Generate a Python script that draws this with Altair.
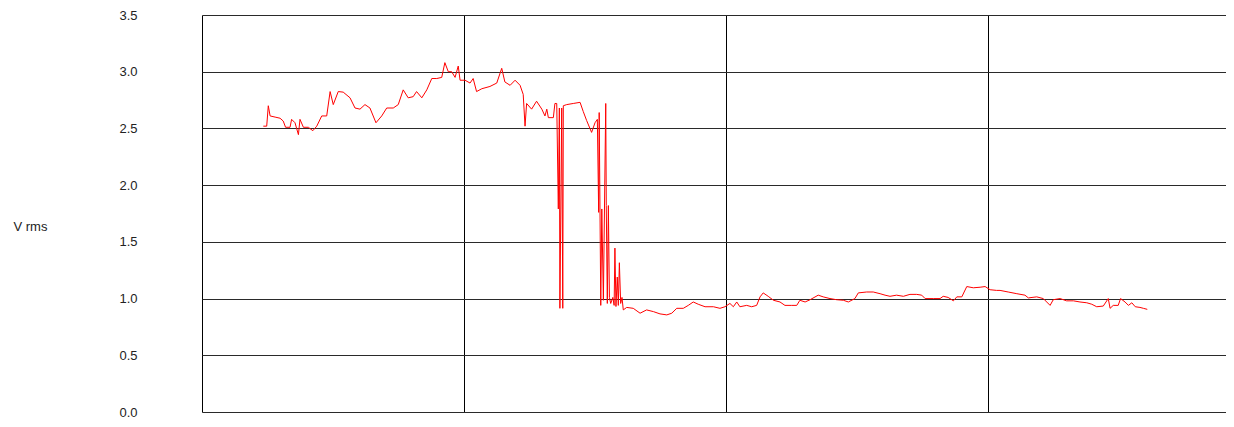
import altair as alt
import pandas as pd

# time axis (arbitrary units: grid lines every 100)
t_vals = [
    23.4, 24.7, 25.3, 26.0, 27.9, 29.8, 31.0, 31.9, 33.6, 34.2, 35.5, 36.8, 37.4, 38.7, 40.6,
    42.3, 43.8, 45.7, 47.6, 48.9, 50.1, 52.0, 53.9, 56.5, 58.4, 60.3, 62.2, 64.1, 66.4, 68.6,
    70.5, 73.0, 74.9, 76.8, 78.7, 80.6, 81.9, 83.9, 85.8, 87.7, 89.6, 91.5, 92.7, 94.0, 95.3,
    96.6, 97.8, 98.5, 100.4, 102.3, 103.5, 104.8, 106.8, 109.9, 112.5, 114.4, 115.6, 117.6,
    119.5, 121.4, 122.6, 123.3, 123.9, 125.8, 127.7, 129.7, 130.9, 131.6, 132.2,
    134.1, 134.7, 135.4, 136.0, 136.4, 136.6, 137.3, 137.7, 137.9, 139.2, 141.7, 144.3, 145.5,
    146.8, 148.7, 150.0, 150.9, 151.4, 151.6, 152.2, 152.6, 153.2, 154.1, 154.3, 154.7, 155.1,
    155.5, 156.0, 156.8, 157.3, 157.6, 158.0, 158.5, 158.9, 159.3, 159.8, 160.3, 160.8,
    162.1, 164.6, 167.2, 169.7, 172.3, 174.8, 177.4, 179.3, 181.2, 183.7, 185.6, 187.5, 189.4,
    192.0, 195.2, 197.7, 199.6, 201.5, 202.8, 204.1, 205.3, 207.9, 209.8, 211.7, 213.0, 214.2,
    216.1, 218.1, 220.6, 222.5, 225.1, 227.0, 228.2, 230.2, 232.1, 235.2, 237.1, 239.7, 242.2,
    244.8, 246.7, 249.2, 250.5, 253.7, 256.2, 258.8, 260.7, 262.6, 265.1, 267.7, 270.2, 272.8,
    274.7, 276.0, 279.1, 281.7, 282.9, 284.8, 286.8, 288.1, 290.0, 291.9, 294.4, 297.0, 298.9,
    300.8, 303.3, 304.6, 307.7, 311.0, 314.1, 315.4, 318.6, 321.1, 323.7, 324.9, 327.5, 330.0,
    332.6, 335.1, 337.7, 339.6, 341.5, 344.0, 345.9, 346.6, 347.8, 349.7, 350.6, 352.3, 353.6,
    354.9, 356.2, 358.0, 359.3, 360.8,
]

vrms_vals = [
    2.52, 2.52, 2.70, 2.61, 2.60, 2.59, 2.565, 2.51, 2.51, 2.58, 2.55, 2.445, 2.58, 2.51, 2.51,
    2.48, 2.52, 2.61, 2.61, 2.825, 2.71, 2.825, 2.82, 2.77, 2.68, 2.67, 2.71, 2.68, 2.55, 2.61,
    2.68, 2.68, 2.71, 2.84, 2.77, 2.78, 2.825, 2.77, 2.84, 2.94, 2.94, 2.95, 3.08, 3.00, 3.00,
    2.95, 3.05, 2.925, 2.925, 2.90, 2.94, 2.825, 2.85, 2.87, 2.90, 3.03, 2.91, 2.88, 2.925,
    2.88, 2.80, 2.52, 2.72, 2.67, 2.74, 2.67, 2.61, 2.67, 2.595,
    2.595, 2.72, 2.72, 1.79, 2.68, 0.914, 2.68, 0.914, 2.70, 2.71, 2.72, 2.73, 2.65,
    2.57, 2.465, 2.55, 2.58, 1.76, 2.64, 0.94, 1.79, 0.985, 2.72, 1.82, 0.957, 1.82,
    1.01, 0.957, 1.01, 0.94, 1.445, 0.93, 1.19, 0.94, 1.316, 0.957, 1.01, 0.90,
    0.922, 0.914, 0.871, 0.90, 0.885, 0.865, 0.856, 0.871, 0.914, 0.914, 0.94, 0.97, 0.95,
    0.928, 0.928, 0.914, 0.928, 0.957, 0.928, 0.97, 0.928, 0.94, 0.928, 0.94, 1.015, 1.05,
    1.02, 0.985, 0.97, 0.94, 0.94, 0.94, 0.985, 0.97, 0.99, 1.03, 1.015, 1.0, 0.99,
    0.985, 0.97, 1.0, 1.05, 1.058, 1.058, 1.043, 1.03, 1.02, 1.03, 1.02, 1.037, 1.037,
    1.03, 1.0, 1.0, 1.0, 1.02, 1.01, 0.98, 1.015, 1.015, 1.106, 1.095, 1.10, 1.106,
    1.078, 1.072, 1.072, 1.058, 1.043, 1.03, 1.006, 1.015, 1.0, 0.94, 0.99, 1.0, 0.98,
    0.98, 0.97, 0.963, 0.95, 0.928, 0.934, 1.0, 0.914, 0.94, 0.94, 1.0, 0.97, 0.94,
    0.963, 0.928, 0.922, 0.914, 0.905,
]

y_ticks = [0.0, 0.5, 1.0, 1.5, 2.0, 2.5, 3.0, 3.5]
x_grid = [0, 100, 200, 300]

df = pd.DataFrame({"i": list(range(len(t_vals))), "t": t_vals, "v": vrms_vals})

grid_color = "#2a2a2a"
plot_w = 1024

chart = (
    alt.Chart(df)
    .mark_line(color="#ff0000", strokeWidth=1, clip=True)
    .encode(
        x=alt.X(
            "t:Q",
            scale=alt.Scale(domain=[0, plot_w / 2.62], nice=False, zero=False),
            axis=alt.Axis(
                values=x_grid, labels=False, ticks=False, domain=False, title=None,
                grid=True, gridColor="#000000", gridOpacity=1, gridWidth=1,
            ),
        ),
        y=alt.Y(
            "v:Q",
            scale=alt.Scale(domain=[0, 3.5], nice=False),
            axis=alt.Axis(
                values=y_ticks, format=".1f", ticks=False, domain=False,
                labelPadding=65, labelFont="Liberation Sans", labelFontSize=13,
                labelColor="#222222",
                grid=True, gridColor=grid_color, gridOpacity=1, gridWidth=1,
                title="V rms", titleAngle=0, titleAlign="left", titleBaseline="middle",
                titleX=-189, titleY=211, titleFont="Liberation Sans", titleFontSize=13,
                titleFontWeight="normal", titleColor="#222222",
            ),
        ),
        order="i:Q",
    )
    .properties(
        width=plot_w,
        height=397,
        autosize=alt.AutoSizeParams(type="none"),
        padding={"left": 194, "top": 7, "right": 0, "bottom": 7},
    )
    .configure_view(stroke=None)
    .configure(background="white")
)

chart.save("out.html", embed_options={"renderer": "svg", "actions": False})
